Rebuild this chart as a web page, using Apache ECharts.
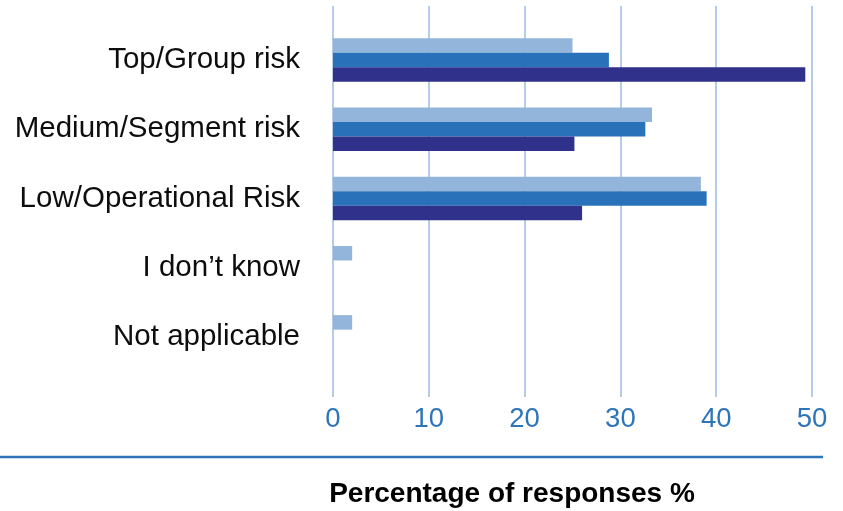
<!DOCTYPE html>
<html>
<head>
<meta charset="utf-8">
<style>
  html, body { margin: 0; padding: 0; background: #ffffff; }
  #chart { width: 843px; height: 511px; }
</style>
<script src="https://cdn.jsdelivr.net/npm/echarts@6/dist/echarts.min.js"></script>
</head>
<body>
<div id="chart"></div>
<script>
// Risk level categories, top to bottom
const categories = ['Top/Group risk', 'Medium/Segment risk', 'Low/Operational Risk', 'I don\u2019t know', 'Not applicable'];

// Percentage of responses per series (null = no bar)
const seriesLight  = [25.0, 33.3, 38.4, 2.0, 2.0];
const seriesMedium = [28.8, 32.6, 39.0, null, null];
const seriesDark   = [49.3, 25.2, 26.0, null, null];

// Value axis ticks
const xMin = 0;
const xMax = 50;
const xStep = 10;

const axisTitle = 'Percentage of responses %';

const FONT = '"Liberation Sans", Arial, Helvetica, sans-serif';
const GRID_LEFT = 333;
const GRID_RIGHT = 31;

const chart = echarts.init(document.getElementById('chart'), null, { renderer: 'canvas' });

const barSeries = (name, data, color) => ({
  name: name,
  type: 'bar',
  xAxisIndex: 0,
  yAxisIndex: 0,
  data: data,
  barWidth: 14.5,
  barGap: '0%',
  itemStyle: { color: color },
  silent: true,
  animation: false
});

chart.setOption({
  animation: false,
  grid: [
    // bars
    { left: GRID_LEFT, right: GRID_RIGHT, top: 25.5, height: 346, containLabel: false },
    // gridlines and value labels
    { left: GRID_LEFT, right: GRID_RIGHT, top: 6, height: 391, containLabel: false }
  ],
  xAxis: [
    {
      gridIndex: 0, type: 'value', min: xMin, max: xMax, interval: xStep,
      show: false
    },
    {
      gridIndex: 1, type: 'value', min: xMin, max: xMax, interval: xStep,
      axisLine: { show: false },
      axisTick: { show: false },
      splitLine: { show: true, lineStyle: { color: '#a3c0e3', width: 1.6 } },
      axisLabel: {
        color: '#2e74b8', fontSize: 27.5, fontFamily: FONT, margin: 8
      }
    }
  ],
  yAxis: [
    {
      gridIndex: 0, type: 'category', data: categories, inverse: true,
      axisLine: { show: false },
      axisTick: { show: false },
      splitLine: { show: false },
      axisLabel: {
        color: '#0d0d0d', fontSize: 29.5, fontFamily: FONT, margin: 33
      }
    },
    {
      gridIndex: 1, type: 'value', show: false, min: 0, max: 1
    }
  ],
  series: [
    barSeries('Light', seriesLight, '#93b4db'),
    barSeries('Medium', seriesMedium, '#2972b9'),
    barSeries('Dark', seriesDark, '#2f318b')
  ],
  graphic: [
    {
      type: 'line',
      shape: { x1: 0, y1: 457, x2: 823, y2: 457 },
      style: { stroke: '#2e74b8', lineWidth: 2.5 },
      silent: true
    },
    {
      type: 'text',
      x: 512, y: 494,
      style: {
        text: axisTitle,
        fill: '#000000',
        font: 'bold 28px ' + FONT,
        textAlign: 'center',
        textVerticalAlign: 'middle'
      },
      silent: true
    }
  ]
});
</script>
</body>
</html>
